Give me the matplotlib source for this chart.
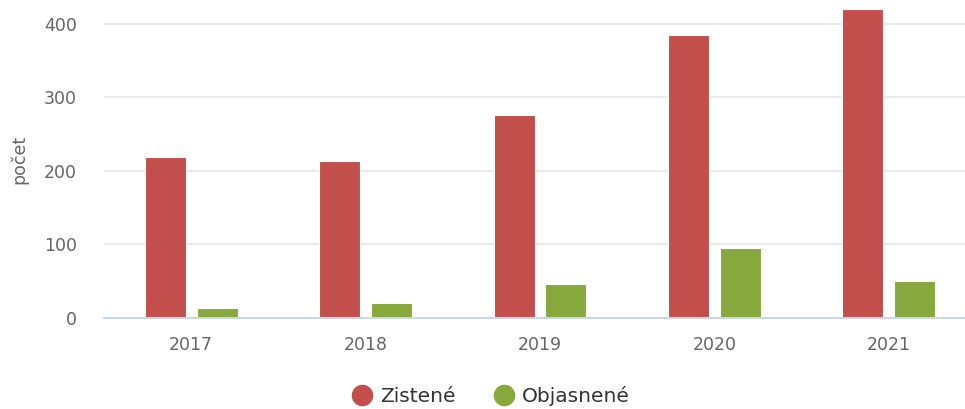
import numpy as np
import matplotlib.pyplot as plt
from matplotlib.lines import Line2D

years = ["2017", "2018", "2019", "2020", "2021"]
zistene = [219, 214, 276, 385, 421]
objasnene = [14, 21, 46, 95, 51]

RED = "#c24f4b"
GREEN = "#86a83c"

plt.rcParams["font.family"] = ["DejaVu Sans"]

fig = plt.figure(figsize=(9.65, 4.09), dpi=100)
# axes slightly wider than the figure: the last category is cut at the right edge
ax = fig.add_axes([104 / 965, 91 / 409, 872 / 965, 318 / 409])

x = np.arange(len(years))
w = 0.235
off = 0.149
ax.bar(x - off, zistene, w, color=RED, edgecolor="white", linewidth=0.8, zorder=3)
ax.bar(x + off, objasnene, w, color=GREEN, edgecolor="white", linewidth=0.8, zorder=3)

ax.set_xlim(-0.5, 4.5)
ax.set_ylim(0, 432.6)
ax.set_yticks([0, 100, 200, 300, 400])
ax.set_xticks(x)
ax.set_xticklabels(years)
ax.grid(axis="y", color="#e6e6e6", linewidth=1.2, zorder=0)
ax.axhline(0, color="#ccd6eb", linewidth=1.5, zorder=4, clip_on=False)

for s in ax.spines.values():
    s.set_visible(False)
ax.tick_params(axis="both", length=0, colors="#666666", labelsize=12.5)
ax.tick_params(axis="x", pad=13)
ax.tick_params(axis="y", pad=19.5)
ax.set_ylabel("počet", color="#666666", fontsize=12.5)
ax.yaxis.set_label_coords(-76 / 872, 0.5)

handles = [
    Line2D([], [], marker="o", linestyle="", markersize=14.5, color=RED),
    Line2D([], [], marker="o", linestyle="", markersize=14.5, color=GREEN),
]
# legend sits at the bottom edge; kept just inside so the descenders are not cut
fig.legend(handles, ["Zistené", "Objasnené"], loc="center", bbox_to_anchor=(490 / 965, 1 - 396 / 409),
           ncol=2, frameon=False, fontsize=14.5, labelcolor="#333333",
           handletextpad=0.3, columnspacing=1.8, handlelength=1.2, borderpad=0.2)

fig.savefig("out.png", dpi=100)
